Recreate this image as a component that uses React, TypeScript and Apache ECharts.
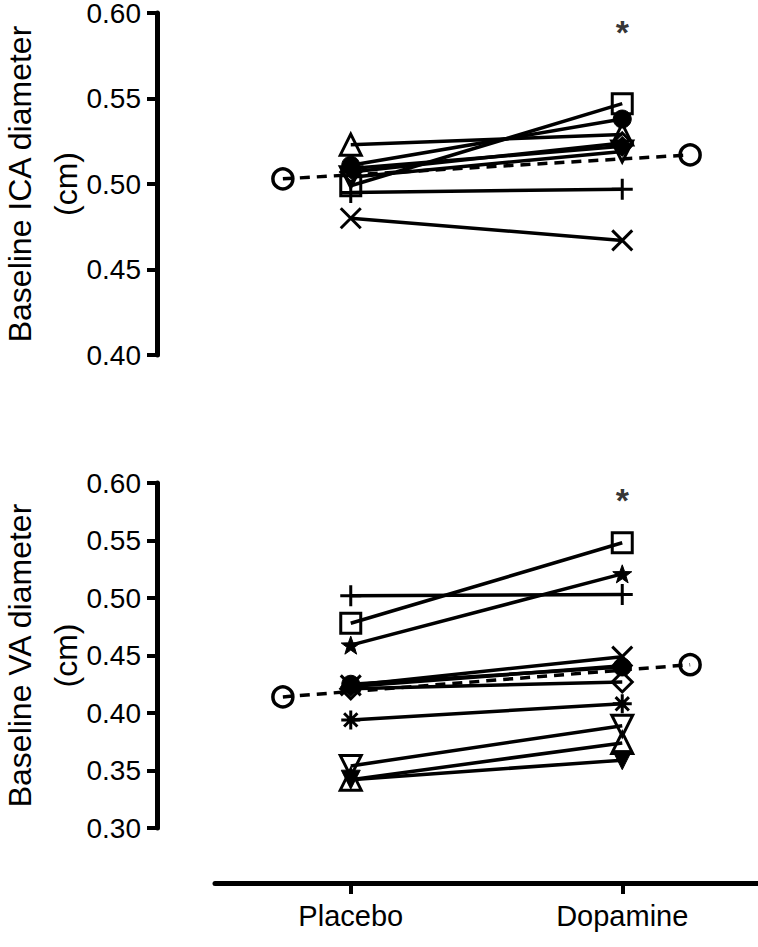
import React, { useEffect, useRef } from "react";
import * as echarts from "echarts";

const categories = ["Placebo", "Dopamine"];
const meanX = [-0.25, 1.25];

// ICA (top panel)
const icaPlacebo = [0.523, 0.511, 0.499, 0.509, 0.507, 0.504, 0.495, 0.48];
const icaDopamine = [0.529, 0.538, 0.547, 0.522, 0.524, 0.519, 0.497, 0.467];
const icaMean = [0.503, 0.517];
const icaSymbols = ["triangle", "circle", "rect", "diamondFilled", "diamond", "triangleDown", "plus", "cross"];
const icaSig = [1, 0.589];

// VA (bottom panel)
const vaPlacebo = [0.502, 0.478, 0.459, 0.424, 0.423, 0.421, 0.425, 0.394, 0.354, 0.342, 0.342];
const vaDopamine = [0.503, 0.548, 0.521, 0.449, 0.441, 0.427, 0.44, 0.408, 0.389, 0.374, 0.359];
const vaMean = [0.414, 0.442];
const vaSymbols = ["plus", "rect", "star", "cross", "diamondFilled", "diamond", "circle", "asterisk", "triangleDown", "triangle", "triangleDownFilled"];
const vaSig = [1, 0.585];

const FONT = "'Liberation Sans', Arial, Helvetica, sans-serif";

const STAR =
  "path://M10,0L12.35,6.76L19.51,6.91L13.8,11.24L15.88,18.09L10,14L4.12,18.09L6.2,11.24L0.49,6.91L7.65,6.76Z";

function symbolSpec(name: string) {
  const open = { color: "rgba(0,0,0,0)", borderColor: "#000", borderWidth: 3 };
  const filled = { color: "#000", borderColor: "#000", borderWidth: 1 };
  switch (name) {
    case "triangle":
      return { symbol: "triangle", symbolSize: 21, symbolRotate: 0, itemStyle: open };
    case "triangleDown":
      return { symbol: "triangle", symbolSize: 21, symbolRotate: 180, itemStyle: open };
    case "triangleDownFilled":
      return { symbol: "triangle", symbolSize: 19, symbolRotate: 180, itemStyle: filled };
    case "circle":
      return { symbol: "circle", symbolSize: 18, symbolRotate: 0, itemStyle: filled };
    case "rect":
      return { symbol: "rect", symbolSize: 20, symbolRotate: 0, itemStyle: open };
    case "diamond":
      return { symbol: "diamond", symbolSize: 20, symbolRotate: 0, itemStyle: open };
    case "diamondFilled":
      return { symbol: "diamond", symbolSize: 20, symbolRotate: 0, itemStyle: filled };
    case "plus":
      return { symbol: "path://M0,10L20,10M10,0L10,20", symbolSize: 21, symbolRotate: 0, itemStyle: open };
    case "cross":
      return { symbol: "path://M0,0L20,20M20,0L0,20", symbolSize: 20, symbolRotate: 0, itemStyle: open };
    case "asterisk":
      return {
        symbol: "path://M10,0L10,20M0,10L20,10M3,3L17,17M17,3L3,17",
        symbolSize: 19,
        symbolRotate: 0,
        itemStyle: open,
      };
    case "star":
      return { symbol: STAR, symbolSize: 19, symbolRotate: 0, itemStyle: filled };
    default:
      return { symbol: "circle", symbolSize: 16, symbolRotate: 0, itemStyle: open };
  }
}

function panelSeries(gi: number, placebo: number[], dopamine: number[], syms: string[], mean: number[], sig: number[]) {
  const out: any[] = [];
  placebo.forEach((p, i) => {
    const s = symbolSpec(syms[i]);
    out.push({
      type: "line",
      xAxisIndex: gi,
      yAxisIndex: gi,
      data: [
        [0, p],
        [1, dopamine[i]],
      ],
      symbol: s.symbol,
      symbolSize: s.symbolSize,
      symbolRotate: s.symbolRotate,
      symbolKeepAspect: true,
      itemStyle: s.itemStyle,
      lineStyle: { color: "#000", width: 3.5 },
      showAllSymbol: true,
      z: 3,
    });
  });
  out.push({
    type: "line",
    xAxisIndex: gi,
    yAxisIndex: gi,
    data: [
      [meanX[0], mean[0]],
      [meanX[1], mean[1]],
    ],
    symbol: "circle",
    symbolSize: 20,
    itemStyle: { color: "rgba(0,0,0,0)", borderColor: "#000", borderWidth: 3.5 },
    lineStyle: { color: "#000", width: 3.5, type: [10, 7] },
    z: 4,
  });
  out.push({
    type: "scatter",
    xAxisIndex: gi,
    yAxisIndex: gi,
    data: [sig],
    symbolSize: 1,
    itemStyle: { color: "rgba(0,0,0,0)" },
    label: {
      show: true,
      position: "inside",
      formatter: "*",
      fontSize: 34,
      fontWeight: "bold",
      color: "#000",
      fontFamily: FONT,
    },
    z: 5,
  });
  return out;
}

function yAxisDef(gi: number, min: number, name: string) {
  return {
    type: "value",
    gridIndex: gi,
    min,
    max: 0.6,
    interval: 0.05,
    offset: 58,
    name,
    nameLocation: "middle",
    nameGap: 68,
    nameMoveOverlap: false,
    nameTextStyle: { fontSize: 32, color: "#000", fontFamily: FONT, lineHeight: 46 },
    axisLine: { show: true, onZero: false, lineStyle: { color: "#000", width: 5 } },
    axisTick: { show: true, length: 10, lineStyle: { color: "#000", width: 4 } },
    axisLabel: {
      formatter: (v: number) => v.toFixed(2),
      fontSize: 28,
      lineHeight: 24,
      color: "#000",
      fontFamily: FONT,
      margin: 16,
    },
    splitLine: { show: false },
  };
}

export default function App() {
  const ref = useRef<HTMLDivElement>(null);
  useEffect(() => {
    document.body.style.margin = "0";
    if (!ref.current) return;
    const chart = echarts.init(ref.current, null, { renderer: "svg" });
    const option: any = {
      animation: false,
      backgroundColor: "#fff",
      grid: [
        { left: 215, right: 0, top: 13, height: 342, containLabel: false, outerBoundsMode: "none" },
        { left: 215, right: 0, top: 483, height: 345, containLabel: false, outerBoundsMode: "none" },
      ],
      xAxis: [
        { type: "value", gridIndex: 0, min: -0.5, max: 1.5, show: false },
        {
          type: "value",
          gridIndex: 1,
          min: -0.5,
          max: 1.5,
          offset: 55,
          axisLine: { show: true, onZero: false, lineStyle: { color: "#000", width: 5 } },
          axisTick: { show: true, customValues: [0, 1], length: 11, lineStyle: { color: "#000", width: 4 } },
          axisLabel: {
            customValues: [0, 1],
            formatter: (v: number) => categories[Math.round(v)] ?? "",
            fontSize: 29,
            color: "#000",
            fontFamily: FONT,
            margin: 18,
          },
          splitLine: { show: false },
        },
      ],
      yAxis: [
        yAxisDef(0, 0.4, "Baseline ICA diameter\n(cm)"),
        yAxisDef(1, 0.3, "Baseline VA diameter\n(cm)"),
      ],
      series: [
        ...panelSeries(0, icaPlacebo, icaDopamine, icaSymbols, icaMean, icaSig),
        ...panelSeries(1, vaPlacebo, vaDopamine, vaSymbols, vaMean, vaSig),
      ],
    };
    chart.setOption(option);
    return () => chart.dispose();
  }, []);
  return <div ref={ref} style={{ width: 758, height: 947 }} />;
}
